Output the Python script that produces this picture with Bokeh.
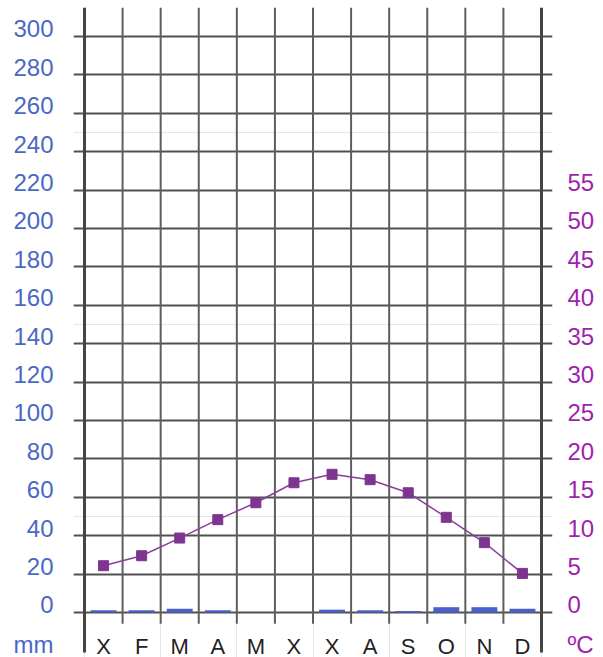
from bokeh.plotting import figure
from bokeh.models import Range1d, LinearAxis, FixedTicker, Grid, ColumnDataSource
from bokeh.core.properties import value
from bokeh.embed import file_html
from bokeh.resources import INLINE

# ---- data ----
months = ["X", "F", "M", "A", "M", "X", "X", "A", "S", "O", "N", "D"]
precip_mm = [1.2, 1.2, 2.0, 1.2, 0.0, 0.0, 1.5, 1.2, 0.8, 2.8, 2.8, 2.0]
temp_c = [6.1, 7.4, 9.7, 12.1, 14.3, 16.9, 18.0, 17.3, 15.6, 12.4, 9.1, 5.1]
mm_ticks = list(range(0, 301, 20))
temp_ticks = list(range(0, 56, 5))
mm_unit = "mm"
temp_unit = "ºC"

# ---- scales ----
MM_BOTTOM, MM_TOP = -23.4, 315.1
MM_PER_C = 4.0
LABEL_SHIFT_MM = 4
UNIT_ROW_MM = -17.5
OUTER_BOTTOM_MM = -20.8
INNER_BOTTOM_MM = -5.8

FONT = "Liberation Sans"
BLUE = "#4a68c4"
PURPLE = "#a01fae"
GRID = "#505050"

n = len(months)
centers = [i + 0.5 for i in range(n)]

p = figure(width=603, height=657, output_backend="svg", toolbar_location=None,
           x_range=Range1d(-0.289, n + 0.289), y_range=Range1d(MM_BOTTOM, MM_TOP),
           x_axis_location=None, y_axis_location=None,
           min_border_left=73, min_border_right=51, min_border_top=7, min_border_bottom=0)
p.title = None
p.extra_y_ranges = {"temp": Range1d(MM_BOTTOM / MM_PER_C, MM_TOP / MM_PER_C)}
p.outline_line_color = None
p.background_fill_color = "white"
p.border_fill_color = "white"

# horizontal grid lines (span full frame incl. extensions)
hgrid = Grid(dimension=1, ticker=FixedTicker(ticks=mm_ticks),
             grid_line_color=GRID, grid_line_width=2)
p.add_layout(hgrid)

# inner vertical lines
inner_x = list(range(1, n))
p.segment(x0=inner_x, y0=[INNER_BOTTOM_MM] * len(inner_x), x1=inner_x, y1=[MM_TOP] * len(inner_x),
          line_color="#5e5e5e", line_width=2)
# outer thick lines
outer_x = [0, n]
p.segment(x0=outer_x, y0=[OUTER_BOTTOM_MM] * 2, x1=outer_x, y1=[MM_TOP] * 2,
          line_color="#444444", line_width=3)

# precipitation bars
src_p = ColumnDataSource(dict(x=centers, top=precip_mm))
p.vbar(x="x", top="top", bottom=0, width=0.68, source=src_p,
       fill_color="#4a60c8", line_color=None)

# temperature line + markers
src_t = ColumnDataSource(dict(x=centers, y=temp_c))
p.line(x="x", y="y", source=src_t, y_range_name="temp", line_color="#8a3e9c", line_width=1.5)
p.scatter(x="x", y="y", source=src_t, y_range_name="temp", marker="square", size=10,
          fill_color="#7d3590", line_color="#7d3590")

# month labels
p.text(x=centers, y=[UNIT_ROW_MM] * n, text=months, text_align="center", text_baseline="middle",
       text_font=value(FONT), text_font_size="22px", text_color="#222222")

# left axis (mm)
left_ticks = [v + LABEL_SHIFT_MM for v in mm_ticks] + [UNIT_ROW_MM]
left_over = {v + LABEL_SHIFT_MM: str(v) for v in mm_ticks}
left_over[UNIT_ROW_MM] = mm_unit
la = LinearAxis(ticker=FixedTicker(ticks=left_ticks), major_label_overrides=left_over,
                axis_line_color=None, major_tick_line_color=None, minor_tick_line_color=None,
                major_tick_in=0, major_tick_out=0, minor_tick_in=0, minor_tick_out=0,
                major_label_standoff=20, major_label_text_font=FONT,
                major_label_text_font_size="24px", major_label_text_color=BLUE)
p.add_layout(la, "left")

# right axis (ºC)
shift_c = LABEL_SHIFT_MM / MM_PER_C
unit_c = UNIT_ROW_MM / MM_PER_C
right_ticks = [t + shift_c for t in temp_ticks] + [unit_c]
right_over = {t + shift_c: str(t) for t in temp_ticks}
right_over[unit_c] = temp_unit
ra = LinearAxis(y_range_name="temp", ticker=FixedTicker(ticks=right_ticks),
                major_label_overrides=right_over,
                axis_line_color=None, major_tick_line_color=None, minor_tick_line_color=None,
                major_tick_in=0, major_tick_out=0, minor_tick_in=0, minor_tick_out=0,
                major_label_standoff=15, major_label_text_font=FONT,
                major_label_text_font_size="24px", major_label_text_color=PURPLE)
p.add_layout(ra, "right")

open("out.html", "w").write(file_html(p, INLINE))
